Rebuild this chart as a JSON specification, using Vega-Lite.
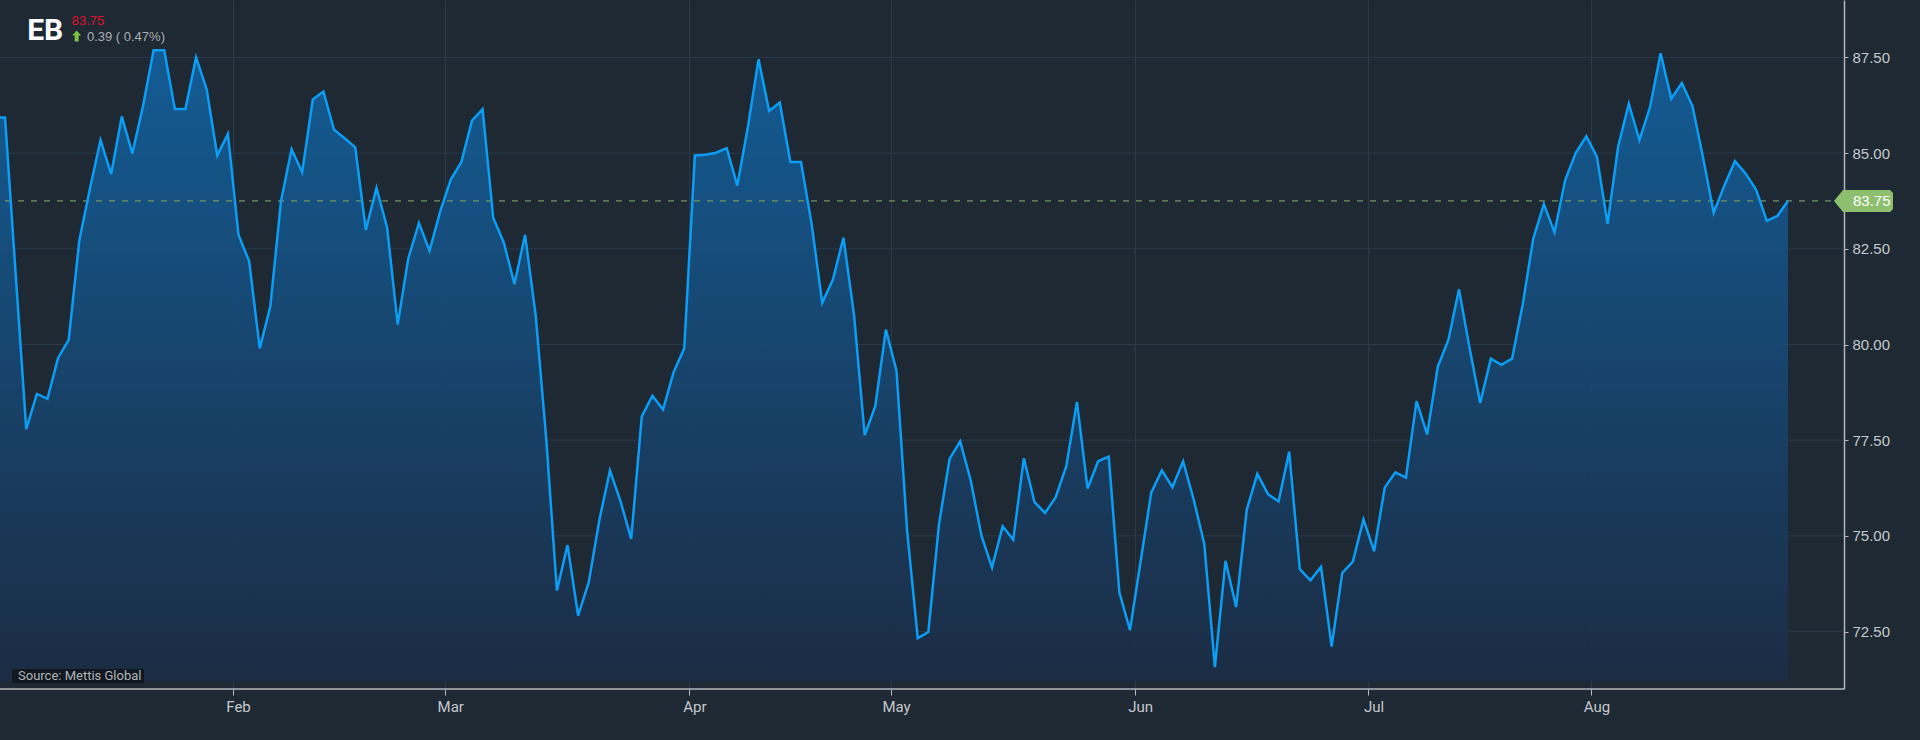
{
  "$schema": "https://vega.github.io/schema/vega-lite/v6.json",
  "width": 1844,
  "height": 689,
  "autosize": {"type": "none"},
  "padding": {"left": 0, "top": 0, "right": 76, "bottom": 51},
  "background": "#1e2934",
  "config": {
    "view": {"stroke": null},
    "font": "Liberation Sans",
    "axis": {
      "domainColor": "#b4b8bc",
      "domainWidth": 1.5,
      "tickColor": "#b4b8bc",
      "labelColor": "#c4c8cc",
      "gridColor": "#2a3a4a",
      "gridWidth": 1,
      "title": null
    }
  },
  "datasets": {
    "price": [
      {"d": "2022-12-30", "v": 85.93},
      {"d": "2023-01-02", "v": 85.93}, {"d": "2023-01-03", "v": 81.86}, {"d": "2023-01-04", "v": 77.79},
      {"d": "2023-01-05", "v": 78.71}, {"d": "2023-01-06", "v": 78.58}, {"d": "2023-01-09", "v": 79.65},
      {"d": "2023-01-10", "v": 80.12}, {"d": "2023-01-11", "v": 82.72}, {"d": "2023-01-12", "v": 84.07},
      {"d": "2023-01-13", "v": 85.34}, {"d": "2023-01-16", "v": 84.45}, {"d": "2023-01-17", "v": 85.96},
      {"d": "2023-01-18", "v": 84.99}, {"d": "2023-01-19", "v": 86.23}, {"d": "2023-01-20", "v": 87.69},
      {"d": "2023-01-23", "v": 87.69}, {"d": "2023-01-24", "v": 86.15}, {"d": "2023-01-25", "v": 86.15},
      {"d": "2023-01-26", "v": 87.5}, {"d": "2023-01-27", "v": 86.67}, {"d": "2023-01-30", "v": 84.94},
      {"d": "2023-01-31", "v": 85.5},
      {"d": "2023-02-01", "v": 82.86}, {"d": "2023-02-02", "v": 82.18}, {"d": "2023-02-03", "v": 79.9},
      {"d": "2023-02-06", "v": 81.0}, {"d": "2023-02-07", "v": 83.74}, {"d": "2023-02-08", "v": 85.1},
      {"d": "2023-02-09", "v": 84.5}, {"d": "2023-02-10", "v": 86.4}, {"d": "2023-02-13", "v": 86.61},
      {"d": "2023-02-14", "v": 85.61}, {"d": "2023-02-15", "v": 85.39}, {"d": "2023-02-16", "v": 85.15},
      {"d": "2023-02-17", "v": 82.99}, {"d": "2023-02-20", "v": 84.09}, {"d": "2023-02-21", "v": 83.06},
      {"d": "2023-02-22", "v": 80.52}, {"d": "2023-02-23", "v": 82.25}, {"d": "2023-02-24", "v": 83.17},
      {"d": "2023-02-27", "v": 82.45}, {"d": "2023-02-28", "v": 83.47},
      {"d": "2023-03-01", "v": 84.31}, {"d": "2023-03-02", "v": 84.77}, {"d": "2023-03-03", "v": 85.85},
      {"d": "2023-03-06", "v": 86.15}, {"d": "2023-03-07", "v": 83.31}, {"d": "2023-03-08", "v": 82.66},
      {"d": "2023-03-09", "v": 81.58}, {"d": "2023-03-10", "v": 82.86}, {"d": "2023-03-13", "v": 80.77},
      {"d": "2023-03-14", "v": 77.52}, {"d": "2023-03-15", "v": 73.57}, {"d": "2023-03-16", "v": 74.76},
      {"d": "2023-03-17", "v": 72.92}, {"d": "2023-03-20", "v": 73.79}, {"d": "2023-03-21", "v": 75.41},
      {"d": "2023-03-22", "v": 76.71}, {"d": "2023-03-23", "v": 75.9}, {"d": "2023-03-24", "v": 74.92},
      {"d": "2023-03-27", "v": 78.12}, {"d": "2023-03-28", "v": 78.66}, {"d": "2023-03-29", "v": 78.3},
      {"d": "2023-03-30", "v": 79.28}, {"d": "2023-03-31", "v": 79.9},
      {"d": "2023-04-03", "v": 84.94}, {"d": "2023-04-04", "v": 84.96}, {"d": "2023-04-05", "v": 85.01},
      {"d": "2023-04-06", "v": 85.13}, {"d": "2023-04-10", "v": 84.15}, {"d": "2023-04-11", "v": 85.69},
      {"d": "2023-04-12", "v": 87.45}, {"d": "2023-04-13", "v": 86.1}, {"d": "2023-04-14", "v": 86.32},
      {"d": "2023-04-17", "v": 84.77}, {"d": "2023-04-18", "v": 84.77}, {"d": "2023-04-19", "v": 83.15},
      {"d": "2023-04-20", "v": 81.09}, {"d": "2023-04-21", "v": 81.69}, {"d": "2023-04-24", "v": 82.79},
      {"d": "2023-04-25", "v": 80.77}, {"d": "2023-04-26", "v": 77.63}, {"d": "2023-04-27", "v": 78.39},
      {"d": "2023-04-28", "v": 80.39},
      {"d": "2023-05-01", "v": 79.31}, {"d": "2023-05-02", "v": 75.14}, {"d": "2023-05-03", "v": 72.33},
      {"d": "2023-05-04", "v": 72.49}, {"d": "2023-05-05", "v": 75.3}, {"d": "2023-05-08", "v": 77.01},
      {"d": "2023-05-09", "v": 77.47}, {"d": "2023-05-10", "v": 76.44}, {"d": "2023-05-11", "v": 75.01},
      {"d": "2023-05-12", "v": 74.17}, {"d": "2023-05-15", "v": 75.25}, {"d": "2023-05-16", "v": 74.9},
      {"d": "2023-05-17", "v": 77.03}, {"d": "2023-05-18", "v": 75.88}, {"d": "2023-05-19", "v": 75.6},
      {"d": "2023-05-22", "v": 76.01}, {"d": "2023-05-23", "v": 76.82}, {"d": "2023-05-24", "v": 78.5},
      {"d": "2023-05-25", "v": 76.24}, {"d": "2023-05-26", "v": 76.95}, {"d": "2023-05-29", "v": 77.07},
      {"d": "2023-05-30", "v": 73.52}, {"d": "2023-05-31", "v": 72.54},
      {"d": "2023-06-01", "v": 74.33}, {"d": "2023-06-02", "v": 76.13}, {"d": "2023-06-05", "v": 76.71},
      {"d": "2023-06-06", "v": 76.27}, {"d": "2023-06-07", "v": 76.95}, {"d": "2023-06-08", "v": 75.95},
      {"d": "2023-06-09", "v": 74.79}, {"d": "2023-06-12", "v": 71.57}, {"d": "2023-06-13", "v": 74.35},
      {"d": "2023-06-14", "v": 73.14}, {"d": "2023-06-15", "v": 75.68}, {"d": "2023-06-16", "v": 76.62},
      {"d": "2023-06-19", "v": 76.09}, {"d": "2023-06-20", "v": 75.9}, {"d": "2023-06-21", "v": 77.2},
      {"d": "2023-06-22", "v": 74.13}, {"d": "2023-06-23", "v": 73.84}, {"d": "2023-06-26", "v": 74.19},
      {"d": "2023-06-27", "v": 72.11}, {"d": "2023-06-28", "v": 74.03}, {"d": "2023-06-29", "v": 74.33},
      {"d": "2023-06-30", "v": 75.43},
      {"d": "2023-07-03", "v": 74.6}, {"d": "2023-07-04", "v": 76.26}, {"d": "2023-07-05", "v": 76.66},
      {"d": "2023-07-06", "v": 76.52}, {"d": "2023-07-07", "v": 78.52}, {"d": "2023-07-10", "v": 77.65},
      {"d": "2023-07-11", "v": 79.42}, {"d": "2023-07-12", "v": 80.12}, {"d": "2023-07-13", "v": 81.44},
      {"d": "2023-07-14", "v": 79.9}, {"d": "2023-07-17", "v": 78.47}, {"d": "2023-07-18", "v": 79.63},
      {"d": "2023-07-19", "v": 79.47}, {"d": "2023-07-20", "v": 79.63}, {"d": "2023-07-21", "v": 81.04},
      {"d": "2023-07-24", "v": 82.77}, {"d": "2023-07-25", "v": 83.67}, {"d": "2023-07-26", "v": 82.93},
      {"d": "2023-07-27", "v": 84.29}, {"d": "2023-07-28", "v": 85.01}, {"d": "2023-07-31", "v": 85.44},
      {"d": "2023-08-01", "v": 84.9}, {"d": "2023-08-02", "v": 83.15}, {"d": "2023-08-03", "v": 85.18},
      {"d": "2023-08-04", "v": 86.29}, {"d": "2023-08-07", "v": 85.34}, {"d": "2023-08-08", "v": 86.2},
      {"d": "2023-08-09", "v": 87.61}, {"d": "2023-08-10", "v": 86.42}, {"d": "2023-08-11", "v": 86.83},
      {"d": "2023-08-14", "v": 86.23}, {"d": "2023-08-15", "v": 84.88}, {"d": "2023-08-16", "v": 83.44},
      {"d": "2023-08-17", "v": 84.15}, {"d": "2023-08-18", "v": 84.79}, {"d": "2023-08-21", "v": 84.47},
      {"d": "2023-08-22", "v": 84.04}, {"d": "2023-08-23", "v": 83.23}, {"d": "2023-08-24", "v": 83.36},
      {"d": "2023-08-25", "v": 83.75}
    ],
    "grid": [{"t": 72.5}, {"t": 75}, {"t": 77.5}, {"t": 80}, {"t": 82.5}, {"t": 85}, {"t": 87.5}],
    "one": [{"k": 1}]
  },
  "layer": [
    {
      "data": {"name": "grid"},
      "mark": {"type": "rule", "color": "#2a3a4a", "strokeWidth": 1},
      "encoding": {"y": {"field": "t", "type": "quantitative"}}
    },
    {
      "data": {"name": "price"},
      "mark": {
        "type": "area",
        "opacity": 0.92,
        "color": {
          "x1": 0, "y1": 0, "x2": 0, "y2": 1,
          "gradient": "linear",
          "stops": [
            {"offset": 0, "color": "#12609c"},
            {"offset": 1, "color": "#1b2c45"}
          ]
        }
      },
      "encoding": {
        "x": {
          "field": "d",
          "type": "ordinal",
          "bandPosition": 0.5,
          "scale": {"type": "band", "paddingInner": 0, "paddingOuter": 0, "range": [-10.9, 1793.3]},
          "axis": {
            "orient": "bottom",
            "values": ["2023-02-01", "2023-03-01", "2023-04-03", "2023-05-01", "2023-06-01", "2023-07-03", "2023-08-01"],
            "labelExpr": "['Jan','Feb','Mar','Apr','May','Jun','Jul','Aug','Sep','Oct','Nov','Dec'][toNumber(slice(datum.value, 5, 7)) - 1]",
            "bandPosition": 0,
            "domain": false,
            "tickSize": 6,
            "labelPadding": 4,
            "labelFontSize": 15,
            "labelFont": "Roboto",
            "labelAngle": 0,
            "grid": true
          }
        },
        "y": {
          "field": "v",
          "type": "quantitative",
          "scale": {"domain": [71, 89], "nice": false, "zero": false},
          "axis": {
            "orient": "right",
            "values": [72.5, 75, 77.5, 80, 82.5, 85, 87.5],
            "format": ".2f",
            "tickSize": 4,
            "labelPadding": 4,
            "labelFontSize": 15,
            "grid": false
          }
        },
        "y2": {"datum": 71.2}
      }
    },
    {
      "data": {"name": "one"},
      "mark": {"type": "rule", "color": "#6f9561", "strokeDash": [6, 7], "strokeWidth": 1.3},
      "encoding": {"y": {"datum": 83.75}}
    },
    {
      "data": {"name": "one"},
      "mark": {"type": "rule", "color": "#b4b8bc", "strokeWidth": 1.5},
      "encoding": {"y": {"datum": 71}}
    },
    {
      "data": {"name": "price"},
      "mark": {"type": "line", "color": "#0c9df5", "strokeWidth": 2.5},
      "encoding": {
        "x": {"field": "d", "type": "ordinal", "bandPosition": 0.5},
        "y": {"field": "v", "type": "quantitative"}
      }
    },
    {
      "data": {"name": "one"},
      "mark": {"type": "text", "text": "EB", "color": "#ffffff", "fontSize": 30, "fontWeight": "bold", "font": "Roboto", "align": "left", "baseline": "alphabetic", "dx": 1},
      "encoding": {"x": {"datum": "2023-01-04", "type": "ordinal"}, "y": {"datum": 87.955}}
    },
    {
      "data": {"name": "one"},
      "mark": {"type": "text", "text": "83.75", "color": "#e0112b", "fontSize": 13, "align": "left", "baseline": "alphabetic", "dx": 3},
      "encoding": {"x": {"datum": "2023-01-10", "type": "ordinal"}, "y": {"datum": 88.347}}
    },
    {
      "data": {"name": "one"},
      "mark": {"type": "text", "text": "0.39 ( 0.47%)", "color": "#a9adb1", "fontSize": 13, "align": "left", "baseline": "alphabetic", "dx": -3},
      "encoding": {"x": {"datum": "2023-01-12", "type": "ordinal"}, "y": {"datum": 87.929}}
    },
    {
      "data": {"name": "one"},
      "mark": {
        "type": "point",
        "shape": "M8,-6 L12.5,-1 L10,-1 L10,5 L6,5 L6,-1 L3.5,-1 Z",
        "size": 4,
        "filled": true,
        "fill": "#7cc142",
        "opacity": 1,
        "strokeWidth": 0
      },
      "encoding": {"x": {"datum": "2023-01-10", "type": "ordinal"}, "y": {"datum": 88.046}}
    },
    {
      "data": {"name": "one"},
      "mark": {
        "type": "point",
        "shape": "M7,-7 L139,-7 L139,7 L7,7 Z",
        "size": 4,
        "filled": true,
        "fill": "#111820",
        "opacity": 1,
        "strokeWidth": 0
      },
      "encoding": {"x": {"datum": "2023-01-02", "type": "ordinal"}, "y": {"datum": 71.34}}
    },
    {
      "data": {"name": "one"},
      "mark": {"type": "text", "text": "Source: Mettis Global", "color": "#b0b4b8", "fontSize": 13, "font": "Roboto", "align": "left", "baseline": "middle", "dx": 13},
      "encoding": {"x": {"datum": "2023-01-02", "type": "ordinal"}, "y": {"datum": 71.34}}
    },
    {
      "data": {"name": "one"},
      "mark": {
        "type": "point",
        "shape": "M46,0 L55,-11 L102,-11 L105,-8 L105,8 L102,11 L55,11 Z",
        "size": 4,
        "filled": true,
        "fill": "#8dbf6f",
        "opacity": 1,
        "strokeWidth": 0
      },
      "encoding": {"x": {"datum": "2023-08-25", "type": "ordinal"}, "y": {"datum": 83.75}}
    },
    {
      "data": {"name": "one"},
      "mark": {"type": "text", "text": "83.75", "color": "#ffffff", "fontSize": 15, "align": "left", "baseline": "middle", "dx": 65},
      "encoding": {"x": {"datum": "2023-08-25", "type": "ordinal"}, "y": {"datum": 83.75}}
    }
  ]
}
